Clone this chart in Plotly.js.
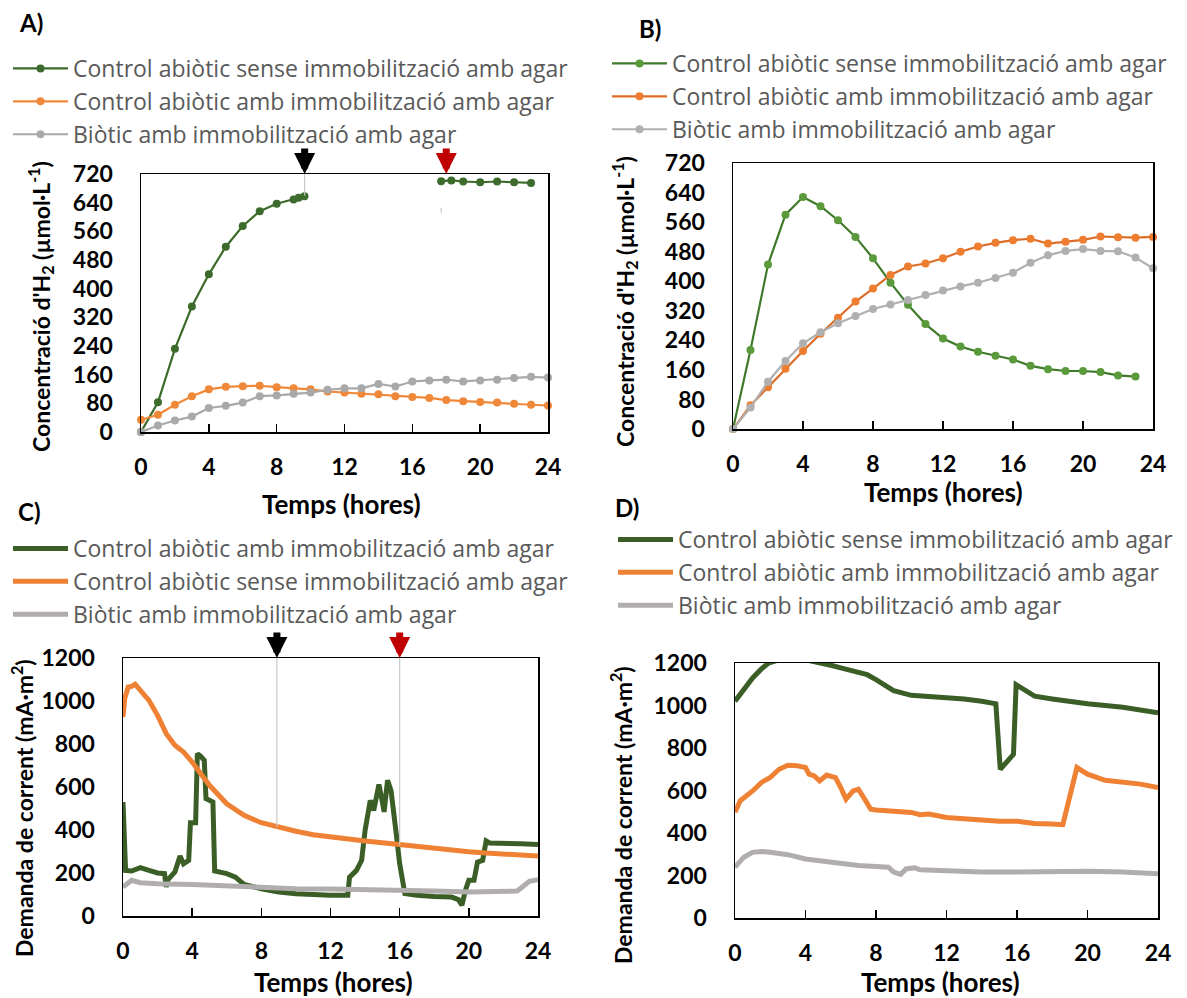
<!DOCTYPE html>
<html><head><meta charset="utf-8">
<script src="https://cdn.plot.ly/plotly-3.0.1.min.js"></script>
<style>body{margin:0;background:#fff}#chart{width:1187px;height:998px}</style>
</head><body><div id="chart"></div>
<script>
// ---------- DATA ----------
const legendNames = [
  "Control abiòtic sense immobilització amb agar",
  "Control abiòtic amb immobilització amb agar",
  "Biòtic amb immobilització amb agar"
];
const legendNamesC = [
  "Control abiòtic amb immobilització amb agar",
  "Control abiòtic sense immobilització amb agar",
  "Biòtic amb immobilització amb agar"
];
const hours = [0,1,2,3,4,5,6,7,8,9,10,11,12,13,14,15,16,17,18,19,20,21,22,23,24];
const hours23 = [0,1,2,3,4,5,6,7,8,9,10,11,12,13,14,15,16,17,18,19,20,21,22,23];

// Panel A (H2, µmol·L-1)
const aGreenT = [0,1,2,3,4,5,6,7,8,9,9.3,9.64,13,17.7,18.3,19,20,21,22,23];
const aGreenV = [0,83,232,350,440,517,575,616,637,649,654,658,null,700,702,699,697,699,697,695];
const aOrangeV = [34,48,76,100,119,126,128,129,125,122,119,113,110,107,105,100,98,95,89,86,84,82,79,76,74];
const aGrayV = [0,18,32,43,67,73,82,100,102,107,110,118,122,122,134,127,141,144,146,141,144,146,151,154,152];

// Panel B (H2, µmol·L-1)
const bGreenV = [0,214,445,580,628,603,565,520,462,396,336,284,245,223,209,198,188,171,162,157,157,154,145,142];
const bOrangeV = [0,64,113,163,211,258,301,345,380,417,440,448,462,480,494,504,511,515,502,507,512,521,519,518,520];
const bGrayV = [0,58,128,184,232,262,286,306,325,337,349,363,375,386,396,409,423,450,470,482,487,482,481,464,435];

// Panel C (current demand, mA·m2)
const cGreenT = [0,0.15,0.5,1,1.5,2,2.4,2.5,2.6,3,3.3,3.5,3.8,3.9,4.2,4.3,4.5,4.7,4.8,5.2,5.3,6,6.5,7,8,9,10,11,12,13,13.1,13.5,13.8,14,14.3,14.5,14.8,15,15.1,15.3,15.5,15.8,16,16.3,17,18,19,19.4,19.6,19.8,20,20.3,20.5,20.8,21,21.2,22,23,24];
const cGreenV = [530,212,209,225,212,200,197,135,169,205,279,243,259,434,434,755,743,724,546,530,209,197,181,147,127,112,104,99,96,96,181,212,259,398,538,491,612,530,484,631,584,383,243,104,96,91,88,76,50,119,166,166,251,259,349,340,336,336,333];
const cOrangeT = [0,0.1,0.3,0.5,0.7,1,1.5,2,2.5,3,3.5,4,5,6,7,8,9,10,11,12,13,14,15,16,17,18,19,20,21,22,23,24];
const cOrangeV = [926,1011,1065,1068,1078,1050,1003,933,848,794,763,716,608,522,468,434,411,394,378,367,357,349,341,332,321,312,305,299,293,287,281,279];
const cGrayT = [0,0.5,1,2,4,6,8,10,12,14,16,18,20,22,22.8,23.5,24];
const cGrayV = [135,166,155,150,147,140,132,127,126,124,121,116,112,112,116,161,169];

// Panel D (current demand, mA·m2)
const dGreenT = [0,0.5,1,1.5,1.9,2.5,3,3.5,4,4.5,4.8,5.5,6,7,7.5,8,8.5,9,10,11,12,13,14,14.8,15.05,15.8,15.95,16.5,17,18,19,20,22,23,24];
const dGreenV = [1020,1080,1130,1172,1200,1215,1222,1222,1215,1207,1203,1188,1177,1158,1145,1122,1094,1070,1048,1044,1036,1031,1020,1008,700,770,1098,1069,1044,1031,1017,1008,992,981,966];
const dOrangeT = [0,0.3,1,1.5,2,2.5,3,3.5,4,4.2,4.5,4.8,5.2,5.7,6,6.3,6.7,7,7.3,7.7,8,9,10,10.5,11,12,13,14,15,16,17,18,18.6,19.4,20,21,22,23,24];
const dOrangeV = [498,552,598,638,661,700,719,717,708,677,669,645,673,661,614,559,598,606,567,512,508,500,497,486,489,473,466,458,455,455,445,442,439,708,677,648,638,630,614];
const dGrayT = [0,0.5,1,1.5,2,3,4,5,6,7,8,8.7,9,9.4,9.7,10.2,10.5,12,14,16,18,20,22,24];
const dGrayV = [239,286,309,313,309,298,278,266,255,247,242,239,216,205,231,236,227,220,216,216,220,220,216,208];

// event markers (time of arrows / guide lines)
const eventsA = [9.65, 18.0];
const eventsC = [8.9, 16.0];

// ---------- STYLE ----------
const W = 1187, H = 998;
const px = v => v / W;
const py = v => 1 - v / H;
const FONT = "Lato, 'Open Sans', sans-serif";
const LFONT = "'Open Sans', 'Noto Sans', sans-serif";

const green1 = '#3d6b2b', orange1 = '#f0883a', gray1 = '#a9a9a9';
const green2 = '#3f7a2a', green2m = '#5a9a3a', orange2 = '#dc6c26', orange2m = '#ef7d30', gray2 = '#b0b0b0';
const green3 = '#3b5e27', orange3 = '#ef8134', gray3 = '#b1adad';

function lm(x, y, name, lc, mc, xa, ya, leg, grp) {
  return {x, y, name, type: 'scatter', mode: 'lines+markers', xaxis: xa, yaxis: ya,
    legend: leg, legendgroup: grp, cliponaxis: false, connectgaps: false,
    line: {color: lc, width: 2.2}, marker: {color: mc, size: 8}};
}
function ln(x, y, name, c, xa, ya, leg, grp) {
  return {x, y, name, type: 'scatter', mode: 'lines', xaxis: xa, yaxis: ya,
    legend: leg, legendgroup: grp, line: {color: c, width: 5}};
}

const traces = [
  lm(aGreenT, aGreenV, legendNames[0], green1, green1, 'x', 'y', 'legend', 'a1'),
  lm(hours, aOrangeV, legendNames[1], orange1, orange1, 'x', 'y', 'legend', 'a2'),
  lm(hours, aGrayV, legendNames[2], gray1, gray1, 'x', 'y', 'legend', 'a3'),
  lm(hours23, bGreenV, legendNames[0], green2, green2m, 'x2', 'y2', 'legend2', 'b1'),
  lm(hours, bOrangeV, legendNames[1], orange2, orange2m, 'x2', 'y2', 'legend2', 'b2'),
  lm(hours, bGrayV, legendNames[2], gray2, gray2, 'x2', 'y2', 'legend2', 'b3'),
  ln(cGreenT, cGreenV, legendNamesC[0], green3, 'x3', 'y3', 'legend3', 'c1'),
  ln(cOrangeT, cOrangeV, legendNamesC[1], orange3, 'x3', 'y3', 'legend3', 'c2'),
  ln(cGrayT, cGrayV, legendNamesC[2], gray3, 'x3', 'y3', 'legend3', 'c3'),
  ln(dGreenT, dGreenV, legendNames[0], green3, 'x4', 'y4', 'legend4', 'd1'),
  ln(dOrangeT, dOrangeV, legendNames[1], orange3, 'x4', 'y4', 'legend4', 'd2'),
  ln(dGrayT, dGrayV, legendNames[2], gray3, 'x4', 'y4', 'legend4', 'd3'),
];

const tickFont = {family: FONT, size: 23, color: '#000', weight: 'bold'};
function xax(l, r, anchor) {
  return {domain: [px(l), px(r)], anchor, range: [0, 24], dtick: 4, tick0: 0,
    ticks: 'inside', ticklen: 8, tickwidth: 1.5, tickcolor: '#000',
    showline: true, mirror: true, linecolor: '#000', linewidth: 1.5,
    showgrid: false, zeroline: false, tickfont: tickFont, ticklabelstandoff: 14, fixedrange: true};
}
function yax(t, b, anchor, max, dt) {
  return {domain: [py(b), py(t)], anchor, range: [0, max], dtick: dt, tick0: 0,
    ticks: '', showline: true, mirror: true, linecolor: '#000', linewidth: 1.5,
    showgrid: false, zeroline: false, tickfont: tickFont, ticklabelstandoff: 22, fixedrange: true};
}
const legFont = {family: LFONT, size: 23, color: '#595959'};
function leg(x, y, gap) {
  return {x: px(x), y: py(y), xanchor: 'left', yanchor: 'top', font: legFont,
    bgcolor: 'rgba(0,0,0,0)', borderwidth: 0, traceorder: 'grouped', tracegroupgap: gap, itemwidth: 55};
}

const A = {l: 141, r: 548, t: 174, b: 432};
const B = {l: 733, r: 1153, t: 163, b: 429};
const C = {l: 123, r: 538, t: 658, b: 916};
const D = {l: 735, r: 1158, t: 663, b: 918};

const annotations = [];
function txt(x, y, text, size, angle) {
  annotations.push({xref: 'paper', yref: 'paper', x: px(x), y: py(y), text, showarrow: false,
    font: {family: FONT, size, color: '#000', weight: 'bold'}, textangle: angle || 0,
    xanchor: 'center', yanchor: 'middle'});
}
txt(31, 22, 'A)', 24); txt(650, 28, 'B)', 24); txt(29, 512, 'C)', 24); txt(627, 508, 'D)', 24);
txt(341, 504, 'Temps (hores)', 26); txt(943, 492, 'Temps (hores)', 26);
txt(333, 982, 'Temps (hores)', 26); txt(940, 982, 'Temps (hores)', 26);
const yTitleH = "Concentració d'H<sub>2</sub> (µmol·L<sup>-1</sup>)";
const yTitleI = "Demanda de corrent (mA·m<sup>2</sup>)";
txt(40, 307, yTitleH, 23, -90); txt(625, 302, yTitleH, 23, -90);
txt(22, 808, yTitleI, 23, -90); txt(621, 815, yTitleI, 23, -90);

function arrow(xa, domTop, xval, color) {
  annotations.push({xref: xa, yref: 'paper', x: xval, y: py(domTop), ax: 0, ay: -27,
    text: '', showarrow: true, arrowhead: 2, arrowsize: 0.6, arrowwidth: 7, arrowcolor: color, standoff: 0});
}
arrow('x', A.t, eventsA[0], '#000'); arrow('x', A.t, eventsA[1], '#c00000');
arrow('x3', C.t, eventsC[0], '#000'); arrow('x3', C.t, eventsC[1], '#c00000');

const shapes = [
  {type: 'line', xref: 'x', yref: 'y', x0: eventsA[0], x1: eventsA[0], y0: 660, y1: 720, line: {color: '#c8c8c8', width: 1.2}},
  {type: 'line', xref: 'x', yref: 'y', x0: 17.7, x1: 17.7, y0: 612, y1: 625, line: {color: '#c8c8c8', width: 1.2}},
  {type: 'line', xref: 'x3', yref: 'y3', x0: eventsC[0], x1: eventsC[0], y0: 414, y1: 1200, line: {color: '#c8c8c8', width: 1.2}},
  {type: 'line', xref: 'x3', yref: 'y3', x0: eventsC[1], x1: eventsC[1], y0: 329, y1: 1200, line: {color: '#c8c8c8', width: 1.2}},
];

const layout = {
  width: W, height: H, margin: {l: 0, r: 0, t: 0, b: 0},
  paper_bgcolor: '#fff', plot_bgcolor: '#fff', showlegend: true,
  font: {family: FONT},
  xaxis: xax(A.l, A.r, 'y'), yaxis: yax(A.t, A.b, 'x', 720, 80),
  xaxis2: xax(B.l, B.r, 'y2'), yaxis2: yax(B.t, B.b, 'x2', 720, 80),
  xaxis3: xax(C.l, C.r, 'y3'), yaxis3: yax(C.t, C.b, 'x3', 1200, 200),
  xaxis4: xax(D.l, D.r, 'y4'), yaxis4: yax(D.t, D.b, 'x4', 1200, 200),
  legend: leg(8, 47, 0), legend2: leg(607, 42, 0), legend3: leg(8, 527, 0), legend4: leg(613, 518, 0),
  annotations, shapes
};

Plotly.newPlot('chart', traces, layout, {displayModeBar: false, staticPlot: true});
</script></body></html>
